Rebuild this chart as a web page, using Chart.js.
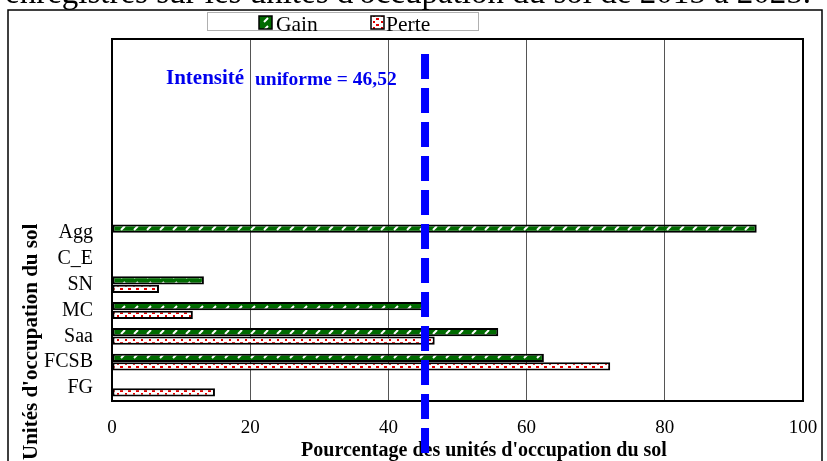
<!DOCTYPE html>
<html>
<head>
<meta charset="utf-8">
<script src="https://cdn.jsdelivr.net/npm/chart.js@4.4.1/dist/chart.umd.min.js"></script>
<style>
  html, body { margin: 0; padding: 0; background: #fff; }
  #wrap { position: relative; width: 827px; height: 461px; overflow: hidden; }
</style>
</head>
<body>
<div id="wrap"><canvas id="chart" width="827" height="461"></canvas></div>
<script>
// data (top slots are empty in the original figure)
const categories = ['', '', '', '', '', '', '', 'Agg', 'C_E', 'SN', 'MC', 'Saa', 'FCSB', 'FG'];
const gain  = [null, null, null, null, null, null, null, 93.3, null, 13.3, 45.9, 55.9, 62.5, null];
const perte = [null, null, null, null, null, null, null, null, null, 6.8, 11.7, 46.7, 72.1, 14.9];
const xTicks = [0, 20, 40, 60, 80, 100];
const uniformLine = 45.3;
const uniformLabel = ['Intensité', 'uniforme = 46,52'];
const caption = "enregistrés sur les unités d'occupation du sol de 2015 à 2025.";

function gainPattern() {
  const c = document.createElement('canvas');
  c.width = 13; c.height = 8;
  const g = c.getContext('2d');
  g.fillStyle = '#006b00';
  g.fillRect(0, 0, 13, 8);
  g.strokeStyle = '#fff';
  g.lineWidth = 2;
  g.beginPath();
  g.moveTo(4, 6); g.lineTo(8, 2);
  g.stroke();
  return g.createPattern(c, 'repeat');
}

function pertePattern() {
  const c = document.createElement('canvas');
  c.width = 8; c.height = 6;
  const g = c.getContext('2d');
  g.fillStyle = '#fff';
  g.fillRect(0, 0, 8, 6);
  g.fillStyle = '#e00000';
  g.fillRect(0, 0, 3, 2);
  g.fillRect(5, 3, 2, 2);
  return g.createPattern(c, 'repeat');
}

const serif = '"Liberation Serif", "Times New Roman", serif';

const extras = {
  id: 'extras',
  beforeDraw(chart) {
    const ctx = chart.ctx;
    ctx.save();
    ctx.fillStyle = '#000';
    ctx.font = '33px ' + serif;
    ctx.textBaseline = 'alphabetic';
    ctx.fillText(caption, 5, 3);
    ctx.strokeStyle = '#000';
    ctx.lineWidth = 1.5;
    ctx.strokeRect(8, 10, 814, 470);
    ctx.restore();
  },
  afterDatasetsDraw(chart) {
    const ctx = chart.ctx;
    const a = chart.chartArea;
    const x = chart.scales.x;
    ctx.save();
    // plot frame
    ctx.strokeStyle = '#000';
    ctx.lineWidth = 2;
    ctx.strokeRect(a.left, a.top, a.right - a.left, a.bottom - a.top);

    // legend
    ctx.strokeStyle = '#b0b0b0';
    ctx.lineWidth = 1;
    ctx.strokeRect(207.5, 12.5, 271, 18);
    ctx.font = '21.5px ' + serif;
    ctx.textBaseline = 'alphabetic';
    const items = [[259, 276], [371, 386]];
    chart.data.datasets.forEach((ds, i) => {
      const [ix, tx] = items[i];
      ctx.fillStyle = ds.backgroundColor;
      ctx.fillRect(ix, 16, 13, 13);
      ctx.strokeStyle = '#000';
      ctx.lineWidth = 1.5;
      ctx.strokeRect(ix, 16, 13, 13);
      ctx.fillStyle = '#000';
      ctx.fillText(ds.label, tx, 31);
    });

    // axis titles
    ctx.font = 'bold 20px ' + serif;
    ctx.textAlign = 'center';
    ctx.textBaseline = 'middle';
    ctx.fillText("Pourcentage des unités d'occupation du sol", 484, 451);
    ctx.save();
    ctx.translate(32, 460);
    ctx.rotate(-Math.PI / 2);
    ctx.textAlign = 'left';
    ctx.font = 'bold 21px ' + serif;
    ctx.fillText("Unités d'occupation du sol", 0, 0);
    ctx.restore();

    // uniform intensity line
    const px = x.getPixelForValue(uniformLine);
    ctx.strokeStyle = '#0000ff';
    ctx.lineWidth = 8;
    ctx.setLineDash([25, 9]);
    ctx.beginPath();
    ctx.moveTo(px, 54);
    ctx.lineTo(px, 470);
    ctx.stroke();
    ctx.setLineDash([]);

    ctx.fillStyle = '#0000ee';
    ctx.textAlign = 'left';
    ctx.font = 'bold 21px ' + serif;
    ctx.fillText(uniformLabel[0], 166, 79);
    ctx.font = 'bold 19.5px ' + serif;
    ctx.fillText(uniformLabel[1], 255, 80);
    ctx.restore();
  }
};

new Chart(document.getElementById('chart'), {
  type: 'bar',
  data: {
    labels: categories,
    datasets: [
      { label: 'Gain', data: gain, backgroundColor: gainPattern(), borderColor: '#000', borderWidth: 2, borderSkipped: false },
      { label: 'Perte', data: perte, backgroundColor: pertePattern(), borderColor: '#000', borderWidth: 2, borderSkipped: false }
    ]
  },
  options: {
    indexAxis: 'y',
    responsive: false,
    animation: false,
    devicePixelRatio: 1,
    categoryPercentage: 0.66,
    barPercentage: 0.97,
    layout: { padding: { left: 0, right: 24, top: 39, bottom: 0 } },
    plugins: { legend: { display: false }, tooltip: { enabled: false } },
    scales: {
      x: {
        min: 0, max: 100,
        afterFit(s) { s.height = 60; s.paddingLeft = 0; s.paddingRight = 0; },
        afterBuildTicks(s) { s.ticks = xTicks.map(v => ({ value: v })); },
        grid: { color: '#555', lineWidth: 1, drawTicks: false },
        border: { display: false },
        ticks: { color: '#000', padding: 16, font: { family: serif, size: 19 } }
      },
      y: {
        afterFit(s) { s.width = 112; },
        grid: { display: false, drawTicks: false },
        border: { display: false },
        ticks: { color: '#000', padding: 19, autoSkip: false, font: { family: serif, size: 20 } }
      }
    }
  },
  plugins: [extras]
});
</script>
</body>
</html>
